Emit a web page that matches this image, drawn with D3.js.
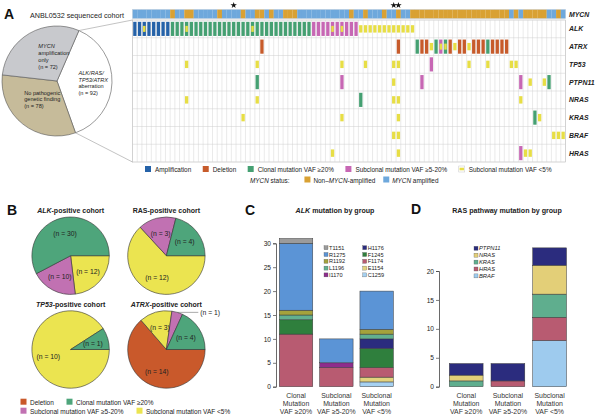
<!DOCTYPE html>
<html>
<head>
<meta charset="utf-8">
<script src="https://cdn.jsdelivr.net/npm/d3@7"></script>
<style>
  body { margin: 0; background: #fff; }
  svg { font-family: "Liberation Sans", Arial, sans-serif; }
</style>
</head>
<body>
<svg></svg>
<script>
// ---------------- data ----------------
// panel A pie: whole sequenced cohort
const cohortCounts = [92, 78, 72];
const cohortLabels = [
    ["*ALK/RAS/*", "*TP53/ATRX*", "aberration"],
    ["No pathogenic", "genetic finding"],
    ["*MYCN*", "amplification", "only"]
];

// oncoprint (92 patients with an aberration)
const nPatients = 92;
const genes = ["ALK", "ATRX", "TP53", "PTPN11", "NRAS", "KRAS", "BRAF", "HRAS"];
const mycnAmpRanges = [[0, 7], [9, 10], [13, 17], [19, 22], [24, 25], [28, 28], [30, 31], [35, 45],
    [47, 48], [50, 52], [54, 55], [57, 58], [80, 80], [82, 82], [88, 89], [91, 91]];
const starCols = [21, 55, 56];

// calls: [first patient, last patient, type]
const alkCalls = [[0, 7, "amp"], [8, 37, "clonal"], [38, 47, "sub"], [48, 59, "low"]];
const atrxCalls = [[27, 27, "del"], [56, 56, "del"], [60, 60, "clonal"], [61, 62, "del"], [63, 63, "low"],
    [64, 64, "clonal"], [65, 65, "sub"], [66, 66, "clonal"], [67, 67, "del"], [68, 68, "low"],
    [69, 70, "del"], [71, 71, "low"], [72, 74, "del"], [75, 75, "clonal"], [76, 79, "del"]];
const tp53Calls = [[11, 11, "low"], [26, 26, "low"], [44, 44, "low"], [49, 49, "low"], [55, 56, "low"],
    [63, 63, "sub"], [71, 71, "low"], [75, 75, "low"], [80, 81, "low"]];
const ptpn11Calls = [[26, 26, "clonal"], [44, 44, "sub"], [55, 55, "low"], [61, 61, "sub"], [82, 82, "sub"],
    [84, 84, "low"], [87, 87, "low"], [88, 88, "clonal"]];
const nrasCalls = [[11, 11, "low"], [26, 26, "low"], [48, 48, "clonal"], [55, 56, "low"], [82, 82, "low"]];
const krasCalls = [[23, 23, "low"], [44, 44, "low"], [56, 56, "low"], [85, 85, "clonal"], [86, 86, "low"]];
const brafCalls = [[55, 56, "low"], [89, 91, "low"]];
const hrasCalls = [[42, 42, "low"], [56, 56, "low"], [82, 82, "sub"], [83, 84, "low"]];
// second (low VAF) hit inside an already-coloured cell
const alkSecondHits = [2, 11, 25, 42, 44];
const atrxSecondHits = [65, 66];

// panel B: slices in clockwise order from 3 o'clock
const pieCats = ["del", "low", "sub", "clonal"];
const alkPie = [0, 12, 10, 30];
const rasPie = [0, 12, 3, 4];
const tp53Pie = [0, 10, 0, 1];
const atrxPie = [14, 3, 1, 4];
const pieTitles = ["*ALK*-positive cohort", "RAS-positive cohort", "*TP53*-positive cohort", "*ATRX*-positive cohort"];

// panel C: ALK variants, stacked bottom to top
const vafGroups = [["Clonal", "Mutation", "VAF \u226520%"], ["Subclonal", "Mutation", "VAF \u22655-20%"], ["Subclonal", "Mutation", "VAF <5%"]];
const alkVariants = ["C1259", "E1154", "F1174", "F1245", "H1176", "I1170", "L1196", "R1192", "R1275", "T1151"];
const alkClonal = [0, 0, 11, 3, 0, 0, 1, 1, 14, 1];
const alkSub520 = [0, 0, 4, 0, 0, 1, 0, 0, 5, 0];
const alkLow = [1, 1, 2, 4, 2, 0, 1, 1, 8, 0];
const alkLegendOrder = ["T1151", "R1275", "R1192", "L1196", "I1170", "H1176", "F1245", "F1174", "E1154", "C1259"];

// panel D: RAS pathway genes, stacked bottom to top
const rasGenes = ["BRAF", "HRAS", "KRAS", "NRAS", "PTPN11"];
const rasClonal = [0, 0, 1, 1, 2];
const rasSub520 = [0, 1, 0, 0, 3];
const rasLow = [8, 4, 4, 5, 3];

// ---------------- colours ----------------
const callColor = { amp: "#2562a8", del: "#c75b2b", clonal: "#45a072", sub: "#c767b4", low: "#e7de45" };
const pieColor = { del: "#c9592b", clonal: "#4ea57b", sub: "#c171b2", low: "#ebe450" };
const mycnColor = { amp: "#6ea8dc", non: "#d9a133" };
const cohortColors = ["#ffffff", "#c6bb9a", "#c8c9cd"];
const variantColor = {
    T1151: "#9b9b9b", R1275: "#5b94d6", R1192: "#a4a23c", L1196: "#62b08f", I1170: "#8d2d8c",
    H1176: "#2b2c7e", F1245: "#2f7f3d", F1174: "#b85b71", E1154: "#e3d37e", C1259: "#a6d1f1"
};
const rasColor = { PTPN11: "#2b2c7e", NRAS: "#e3cf78", KRAS: "#5fae8e", HRAS: "#b85b71", BRAF: "#9ecbee" };

// ---------------- helpers ----------------
const width = 600, height = 420;
const svg = d3.select("svg").attr("width", width).attr("height", height);
svg.append("rect").attr("width", width).attr("height", height).attr("fill", "#fff");

// "*word*" -> italic tspan
function rich(textSel, str) {
    str.split("*").forEach((part, i) => {
        if (!part) return;
        textSel.append("tspan").attr("font-style", i % 2 ? "italic" : null).text(part);
    });
    return textSel;
}
function addText(g, x, y, str, size) {
    const t = g.append("text").attr("x", x).attr("y", y).attr("font-size", size).attr("fill", "#222");
    return rich(t, str);
}
function panelLetter(ch, x, y) {
    svg.append("text").attr("x", x).attr("y", y).attr("font-size", 14).attr("font-weight", "bold")
        .attr("fill", "#111").text(ch);
}

// ---------------- panel A ----------------
panelLetter("A", 4, 19);
addText(svg, 30, 17.5, "ANBL0532 sequenced cohort", 7.2);

const pieAc = [57, 81], pieAr = 55;
const startA = 0.41;
const slicesA = d3.pie().sort(null).startAngle(startA).endAngle(startA + 2 * Math.PI)(cohortCounts);
const arcA = d3.arc().innerRadius(0).outerRadius(pieAr);
const gPieA = svg.append("g").attr("transform", `translate(${pieAc})`);
gPieA.selectAll("path").data(slicesA).join("path")
    .attr("d", arcA)
    .attr("fill", (d, i) => cohortColors[i])
    .attr("stroke", "#555").attr("stroke-width", 0.6);

const xCol = d3.scaleBand().domain(d3.range(nPatients)).range([132.5, 565.5]);
const yRow = d3.scaleBand().domain(genes).range([20, 162]);
const gridTop = yRow.range()[0], gridBottom = yRow.range()[1];
const gridLeft = xCol.range()[0], gridRight = xCol.range()[1];

// zoom lines from the aberration slice to the oncoprint
const edgePt = a => [pieAc[0] + pieAr * Math.sin(a), pieAc[1] - pieAr * Math.cos(a)];
[[slicesA[0].startAngle, gridTop], [slicesA[0].endAngle, gridBottom]].forEach(([a, yy]) => {
    const p = edgePt(a);
    svg.append("line").attr("x1", p[0]).attr("y1", p[1]).attr("x2", gridLeft).attr("y2", yy)
        .attr("stroke", "#9a9a9a").attr("stroke-width", 0.6);
});

const labelNudge = [[6, 1], [4, -5.4], [12, 1.5]];
slicesA.forEach((s, i) => {
    const a = (s.startAngle + s.endAngle) / 2;
    const cx = pieAc[0] + 0.55 * pieAr * Math.sin(a) + labelNudge[i][0];
    const cy = pieAc[1] - 0.55 * pieAr * Math.cos(a) + labelNudge[i][1];
    const lines = cohortLabels[i].concat([`(n = ${cohortCounts[i]})`]);
    const lh = 6.8;
    const texts = lines.map((ln, j) => addText(svg, 0, cy + (j - (lines.length - 1) / 2) * lh, ln, 5.6)
        .attr("dominant-baseline", "central"));
    const maxW = d3.max(texts, t => t.node().getComputedTextLength());
    texts.forEach(t => t.attr("x", cx - maxW / 2));
});

// oncoprint grid
const gOnc = svg.append("g");
gOnc.append("rect").attr("x", gridLeft).attr("y", gridTop)
    .attr("width", gridRight - gridLeft).attr("height", gridBottom - gridTop)
    .attr("fill", "#fff").attr("stroke", "#b5b5b5").attr("stroke-width", 0.6);
gOnc.selectAll("line.col").data(d3.range(1, nPatients)).join("line").attr("class", "col")
    .attr("x1", c => xCol(c)).attr("x2", c => xCol(c))
    .attr("y1", gridTop).attr("y2", gridBottom)
    .attr("stroke", "#d4d4d4").attr("stroke-width", 0.5);
gOnc.selectAll("line.row").data(genes.slice(1)).join("line").attr("class", "row")
    .attr("x1", gridLeft).attr("x2", gridRight)
    .attr("y1", g => yRow(g)).attr("y2", g => yRow(g))
    .attr("stroke", "#cfcfcf").attr("stroke-width", 0.5);

// MYCN status bar
const isAmp = c => mycnAmpRanges.some(([a, b]) => c >= a && c <= b);
gOnc.selectAll("rect.mycn").data(d3.range(nPatients)).join("rect").attr("class", "mycn")
    .attr("x", c => xCol(c)).attr("width", xCol.bandwidth() + 0.1)
    .attr("y", 9.5).attr("height", 9)
    .attr("fill", c => isAmp(c) ? mycnColor.amp : mycnColor.non);
gOnc.append("rect").attr("x", gridLeft).attr("y", 9.5).attr("width", gridRight - gridLeft).attr("height", 9)
    .attr("fill", "none").attr("stroke", "#b9c7d6").attr("stroke-width", 0.4);

gOnc.selectAll("path.star").data(starCols).join("path").attr("class", "star")
    .attr("d", d3.symbol(d3.symbolStar).size(13))
    .attr("transform", c => `translate(${xCol(c) + xCol.bandwidth() / 2},5.3)`)
    .attr("fill", "#111");

const geneCalls = [alkCalls, atrxCalls, tp53Calls, ptpn11Calls, nrasCalls, krasCalls, brafCalls, hrasCalls];
const cells = genes.flatMap((g, gi) => geneCalls[gi].flatMap(([a, b, type]) =>
    d3.range(a, b + 1).map(col => ({ gene: g, col, type }))));
const rowH = yRow.bandwidth();
const cellW = xCol.bandwidth() - 1.4;
gOnc.selectAll("rect.call").data(cells).join("rect").attr("class", "call")
    .attr("x", d => xCol(d.col) + 0.7).attr("width", cellW)
    .attr("y", d => d.type === "low" ? yRow(d.gene) + rowH / 2 - 3.7 : yRow(d.gene) + 1.8)
    .attr("height", d => d.type === "low" ? 7.4 : rowH - 3.6)
    .attr("fill", d => callColor[d.type]);

const secondHits = [["ALK", alkSecondHits], ["ATRX", atrxSecondHits]]
    .flatMap(([g, cols]) => cols.map(col => ({ gene: g, col })));
gOnc.selectAll("rect.second").data(secondHits).join("rect").attr("class", "second")
    .attr("x", d => xCol(d.col) + 1.1).attr("width", cellW - 0.8)
    .attr("y", d => yRow(d.gene) + rowH / 2 - 3).attr("height", 6)
    .attr("fill", callColor.low);

// gene labels
const geneLabelX = gridRight + 3.5;
gOnc.append("text").attr("x", geneLabelX).attr("y", 14).attr("dominant-baseline", "central")
    .attr("font-size", 6.9).attr("font-weight", "bold").attr("font-style", "italic").attr("fill", "#222").text("MYCN");
gOnc.selectAll("text.gene").data(genes).join("text").attr("class", "gene")
    .attr("x", geneLabelX).attr("y", g => yRow(g) + rowH / 2).attr("dominant-baseline", "central")
    .attr("font-size", 6.9).attr("font-weight", "bold").attr("font-style", "italic").attr("fill", "#222")
    .text(g => g);

// legend A
const oncLegend = [["amp", "Amplification"], ["del", "Deletion"], ["clonal", "Clonal mutation VAF \u226520%"],
    ["sub", "Subclonal mutation VAF \u22655-20%"], ["low", "Subclonal mutation VAF <5%"]];
const mycnLegend = [["non", "Non\u2013*MYCN*-amplified"], ["amp", "*MYCN* amplified"]];
const legFont = 6.4, sq = 6;
let lx = 145;
oncLegend.forEach(([type, name]) => {
    const ly = 169;
    if (type === "low") {
        svg.append("rect").attr("x", lx).attr("y", ly - sq / 2).attr("width", sq).attr("height", sq)
            .attr("fill", "#fff").attr("stroke", "#c8c8c8").attr("stroke-width", 0.5);
        svg.append("rect").attr("x", lx + 0.8).attr("y", ly - 1.3).attr("width", sq - 1.6).attr("height", 2.6)
            .attr("fill", callColor.low);
    } else {
        svg.append("rect").attr("x", lx).attr("y", ly - sq / 2).attr("width", sq).attr("height", sq)
            .attr("fill", callColor[type]);
    }
    const t = addText(svg, lx + sq + 4, ly, name, legFont).attr("dominant-baseline", "central");
    lx += sq + 4 + t.node().getComputedTextLength() + 11.5;
});
const st = addText(svg, 250, 179.5, "*MYCN* status:", legFont).attr("dominant-baseline", "central");
lx = 250 + st.node().getComputedTextLength() + 15;
mycnLegend.forEach(([type, name]) => {
    svg.append("rect").attr("x", lx).attr("y", 179.5 - sq / 2).attr("width", sq).attr("height", sq)
        .attr("fill", mycnColor[type]);
    const t = addText(svg, lx + sq + 3, 179.5, name, legFont).attr("dominant-baseline", "central");
    lx += sq + 3 + t.node().getComputedTextLength() + 8;
});

// ---------------- panel B ----------------
panelLetter("B", 7, 215);
const pieR = 38.7;
const pieCenters = [[70.6, 255.7], [166.4, 255.7], [70.6, 349.5], [166.4, 349.5]];
const pieBValues = [alkPie, rasPie, tp53Pie, atrxPie];
const pieB = d3.pie().sort(null).startAngle(Math.PI / 2).endAngle(Math.PI / 2 + 2 * Math.PI);
const arcB = d3.arc().innerRadius(0).outerRadius(pieR);
pieBValues.forEach((vals, k) => {
    const [cx, cy] = pieCenters[k];
    addText(svg, cx, cy - pieR - 4.2, pieTitles[k], 7).attr("text-anchor", "middle").attr("font-weight", "bold");
    const g = svg.append("g").attr("transform", `translate(${cx},${cy})`);
    const slices = pieB(vals).map((s, i) => Object.assign(s, { cat: pieCats[i] })).filter(s => s.value > 0);
    g.selectAll("path").data(slices).join("path")
        .attr("d", arcB).attr("fill", d => pieColor[d.cat])
        .attr("stroke", "#333").attr("stroke-width", 0.6);
    slices.forEach(s => {
        const a = (s.startAngle + s.endAngle) / 2;
        if (s.endAngle - s.startAngle < 0.35) {
            const px = pieR * Math.sin(a), py = -pieR * Math.cos(a);
            g.append("line").attr("x1", px).attr("y1", py).attr("x2", px + 21).attr("y2", py)
                .attr("stroke", "#555").attr("stroke-width", 0.5);
            addText(g, px + 23, py, `(n = ${s.value})`, 6.8).attr("dominant-baseline", "central");
        } else {
            addText(g, 0.6 * pieR * Math.sin(a), -0.6 * pieR * Math.cos(a), `(n = ${s.value})`, 6.8)
                .attr("text-anchor", "middle").attr("dominant-baseline", "central");
        }
    });
});
const pieLegend = [["del", "Deletion"], ["clonal", "Clonal mutation VAF \u226520%"],
    ["sub", "Subclonal mutation VAF \u22655-20%"], ["low", "Subclonal mutation VAF <5%"]];
pieLegend.forEach(([cat, name], i) => {
    const row = Math.floor(i / 2), colI = i % 2;
    const ly = 401.7 + row * 9;
    const x0 = colI === 0 ? 20.5 : (row === 0 ? 66.5 : 136.5);
    svg.append("rect").attr("x", x0).attr("y", ly - 3).attr("width", 6).attr("height", 6)
        .attr("fill", pieColor[cat]);
    addText(svg, x0 + 9.5, ly, name, 6.5).attr("dominant-baseline", "central");
});

// ---------------- panels C and D (stacked bars) ----------------
function stackedPanel(o) {
    const rows = o.groupCounts.map((counts, gi) => {
        const r = { group: gi };
        o.keys.forEach((k, j) => { r[k] = counts[j]; });
        return r;
    });
    const series = d3.stack().keys(o.keys)(rows);
    const x = d3.scaleBand().domain(d3.range(rows.length)).range(o.xRange)
        .paddingInner(o.padIn).paddingOuter(o.padOut);
    const y = d3.scaleLinear().domain([0, o.yMax]).range(o.yRange);
    const g = svg.append("g");
    g.selectAll("g.layer").data(series).join("g").attr("class", "layer")
        .attr("fill", s => o.colors[s.key])
        .selectAll("rect").data(s => s.filter(d => d[1] > d[0])).join("rect")
        .attr("x", d => x(d.data.group)).attr("width", x.bandwidth())
        .attr("y", d => y(d[1])).attr("height", d => y(d[0]) - y(d[1]))
        .attr("stroke", "#3a3a3a").attr("stroke-width", 0.5);

    const axis = g.append("g").attr("transform", `translate(${o.xRange[0]},0)`)
        .call(d3.axisLeft(y).tickValues(d3.range(0, o.yMax + 1, 5)).tickSize(3).tickPadding(2));
    axis.select(".domain").attr("stroke", "#444").attr("stroke-width", 0.8);
    axis.selectAll(".tick line").attr("stroke", "#444").attr("stroke-width", 0.7);
    axis.selectAll(".tick text").attr("font-size", 6.6).attr("fill", "#222")
        .attr("font-family", "Liberation Sans, Arial, sans-serif");

    vafGroups.forEach((lines, gi) => {
        lines.forEach((ln, j) => {
            g.append("text").attr("x", x(gi) + x.bandwidth() / 2).attr("y", 397.6 + j * 8)
                .attr("text-anchor", "middle").attr("font-size", 6.9).attr("fill", "#333").text(ln);
        });
    });
    return g;
}

// C
panelLetter("C", 245, 215);
addText(svg, 335, 213, "*ALK* mutation by group", 7.1).attr("text-anchor", "middle").attr("font-weight", "bold");
stackedPanel({
    keys: alkVariants, groupCounts: [alkClonal, alkSub520, alkLow], colors: variantColor,
    xRange: [276, 396.7], padIn: 0.17, padOut: 0.082, yMax: 30, yRange: [386.7, 243.3]
});
alkLegendOrder.forEach((k, i) => {
    const colI = Math.floor(i / 5), row = i % 5;
    const lx0 = colI === 0 ? 324 : 362.7, ly = 247.7 + row * 6.8;
    svg.append("rect").attr("x", lx0).attr("y", ly - 2).attr("width", 4).attr("height", 4)
        .attr("fill", variantColor[k]).attr("stroke", "#555").attr("stroke-width", 0.3);
    svg.append("text").attr("x", lx0 + 5).attr("y", ly).attr("dominant-baseline", "central")
        .attr("font-size", 5.6).attr("fill", "#222").text(k);
});

// D
panelLetter("D", 411, 214);
addText(svg, 507, 213, "RAS pathway mutation by group", 7.1).attr("text-anchor", "middle").attr("font-weight", "bold");
stackedPanel({
    keys: rasGenes, groupCounts: [rasClonal, rasSub520, rasLow], colors: rasColor,
    xRange: [439, 576.8], padIn: 0.19, padOut: 0.247, yMax: 20, yRange: [386.7, 271]
});
rasGenes.slice().reverse().forEach((k, i) => {
    const ly = 248.3 + i * 6.9;
    svg.append("rect").attr("x", 474).attr("y", ly - 2).attr("width", 4).attr("height", 4)
        .attr("fill", rasColor[k]).attr("stroke", "#555").attr("stroke-width", 0.3);
    svg.append("text").attr("x", 479).attr("y", ly).attr("dominant-baseline", "central")
        .attr("font-size", 5.8).attr("font-style", "italic").attr("fill", "#222").text(k);
});
</script>
</body>
</html>
